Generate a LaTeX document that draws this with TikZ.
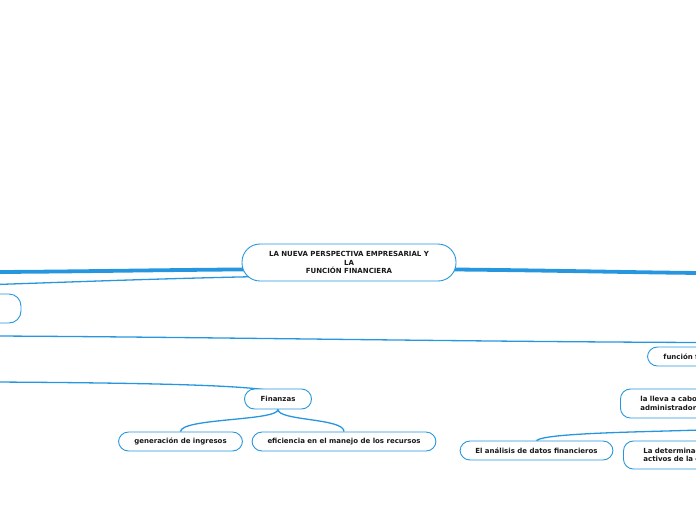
\documentclass[tikz,border=0pt]{standalone}
\usepackage{fontspec}
\setmainfont{DejaVu Sans}
\usetikzlibrary{calc}
\definecolor{mmblue}{RGB}{38,150,222}
\definecolor{mmtext}{RGB}{25,25,25}
\begin{document}
\begin{tikzpicture}[x=1pt,y=-1pt,
  box/.style={draw=mmblue, line width=0.9pt, rounded corners=10pt, fill=white,
    font=\bfseries\fontsize{7}{8.5}\selectfont, text=mmtext, inner sep=0pt, align=center},
  cutbox/.style={box, anchor=west, align=left},
  trunk/.style={draw=mmblue, line width=3.8pt},
  branch/.style={draw=mmblue, line width=1.3pt}]
\useasboundingbox (0,0) rectangle (696,520);
\clip (0,0) rectangle (696,520);
% off-frame ends
\coordinate (offL1) at (-4,272);
\coordinate (offL2) at (-4,284.5);
\coordinate (offL3) at (-4,336);
\coordinate (offR3) at (700,342.5);
\coordinate (offL4) at (-4,382);
\coordinate (offR1) at (700,273);
\coordinate (offR2) at (700,430);
% connectors (drawn first, nodes cover the ends)
\draw[trunk] (349,269) .. controls (200,269) and (100,271.5) .. (offL1);
\draw[trunk] (349,269) .. controls (500,269) and (600,272) .. (offR1);
\draw[branch] (349,275) .. controls (200,277) and (100,281) .. (offL2);
\draw[branch] (offL3) .. controls (200,337) and (450,341.5) .. (offR3);
\draw[branch] (offL4) .. controls (150,383) and (250,385) .. (278,392);
% nodes
\node[box, minimum width=214pt, minimum height=37pt, rounded corners=18pt] (central) at (349,262.5)
  {LA NUEVA PERSPECTIVA EMPRESARIAL Y\\LA\\FUNCIÓN FINANCIERA};
\node[box, minimum width=62pt, minimum height=29pt, rounded corners=12pt] (lnode) at (-10,308.5) {};
\node[box, minimum width=67pt, minimum height=20pt] (fin) at (278,399) {Finanzas};
\node[box, minimum width=124pt, minimum height=19pt] (gen) at (180.5,441.5) {generación de ingresos};
\node[box, minimum width=184pt, minimum height=19pt] (efi) at (344,441.5) {eficiencia en el manejo de los recursos};
\node[box, minimum width=153pt, minimum height=19pt] (ana) at (536.5,450.5) {El análisis de datos financieros};
\node[cutbox, text width=100pt, inner xsep=16pt, minimum height=19pt] (func) at (647,356.5) {función f};
\node[cutbox, text width=100pt, inner xsep=20pt, minimum height=29pt] (lleva) at (620,403.5) {la lleva a cabo\\administrador};
\node[cutbox, text width=100pt, inner xsep=20pt, minimum height=28pt] (deter) at (623,455) {La determinac\\activos de la e};
% child connectors
\draw[branch] (fin.south) .. controls (278,421) and (181,418) .. (gen.north);
\draw[branch] (fin.south) .. controls (278,421) and (344,418) .. (efi.north);
\draw[branch] (offR2) .. controls (640,432) and (545,433) .. (ana.north);
\end{tikzpicture}
\end{document}
